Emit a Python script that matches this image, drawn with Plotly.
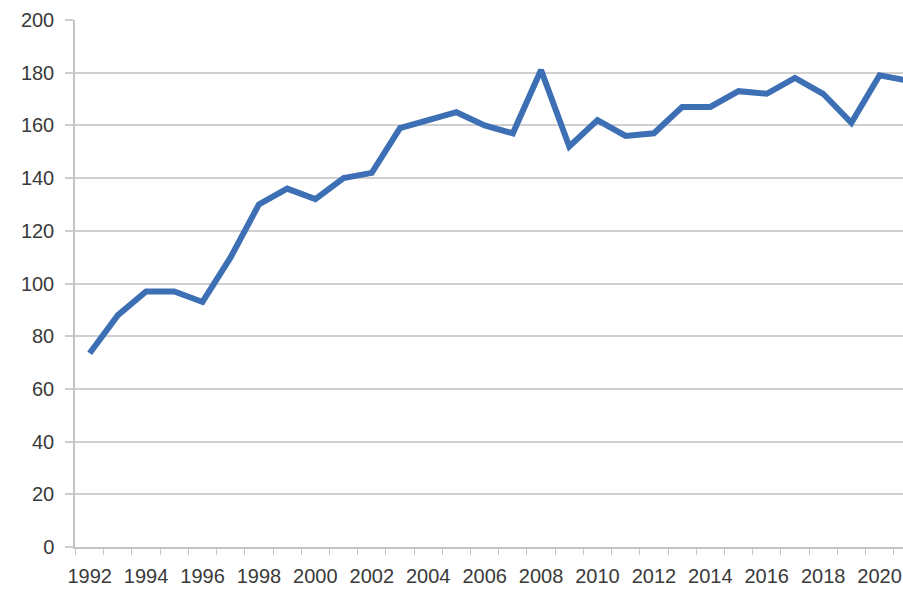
import plotly.graph_objects as go

years = list(range(1992, 2022))
values = [73.5, 88, 97, 97, 93, 110, 130, 136, 132, 140, 142, 159, 162, 165, 160, 157,
          181, 152, 162, 156, 157, 167, 167, 173, 172, 178, 172, 161, 179, 177]
x_labels = [str(y) for y in range(1992, 2022, 2)]
y_ticks = list(range(0, 201, 20))

fig = go.Figure()
fig.add_trace(go.Scatter(x=years, y=values, mode="lines",
                         line=dict(color="#3d6fb5", width=6)))

font = dict(family="Liberation Sans, Arial, sans-serif", size=20, color="#3a3a3a")

fig.update_layout(
    width=903, height=589,
    margin=dict(l=75, r=0, t=20, b=42),
    paper_bgcolor="white", plot_bgcolor="white",
    showlegend=False,
    font=font,
    xaxis=dict(
        range=[1991.48, 2020.83],
        tickvals=list(range(1992, 2022, 2)), ticktext=x_labels,
        ticks="", showgrid=False, zeroline=False,
        showline=True, linecolor="#c4c4c4", linewidth=1.5,
        ticklabelstandoff=10,
        minor=dict(tickvals=[y + 0.5 for y in range(1991, 2021)], ticks="outside",
                   ticklen=6, tickcolor="#c4c4c4", tickwidth=1, showgrid=False),
        tickfont=font,
    ),
    yaxis=dict(
        range=[0, 200], tickvals=y_ticks,
        ticks="outside", ticklen=8, tickcolor="#cccccc", tickwidth=2,
        showgrid=True, gridcolor="#d0d0d0", gridwidth=2,
        zeroline=False, showline=True, linecolor="#c4c4c4", linewidth=1.5,
        ticklabelstandoff=7,
        tickfont=font,
    ),
)

fig.write_html("out.html", config={"displayModeBar": False},
               post_script="document.body.style.margin='0';document.body.style.overflow='hidden';")
